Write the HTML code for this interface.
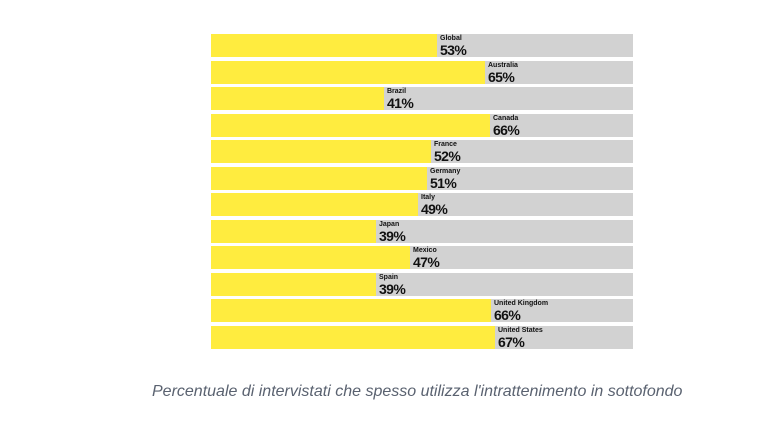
<!DOCTYPE html><html><head><style>
body{margin:0;width:757px;height:446px;background:#fff;position:relative;font-family:"Liberation Sans",sans-serif;overflow:hidden}
.r{position:absolute;left:211px;width:422px;height:23px;background:#d2d2d2}
.y{position:absolute;left:0;top:0;height:23px;background:#ffec3f}
.l{position:absolute;top:1px;font-weight:bold;color:#111;line-height:1}
.l b{display:block;font-size:7px;margin-bottom:1px}
.l i{font-style:normal;display:block;font-size:14px;letter-spacing:-0.6px}
.cap{position:absolute;left:152px;top:383px;font-size:16px;font-style:italic;color:#5a6270;white-space:nowrap}
</style></head><body>
<div class="r" style="top:34px"><div class="y" style="width:226px"></div><div class="l" style="left:229px"><b>Global</b><i>53%</i></div></div>
<div class="r" style="top:60.5px"><div class="y" style="width:274px"></div><div class="l" style="left:277px"><b>Australia</b><i>65%</i></div></div>
<div class="r" style="top:87px"><div class="y" style="width:173px"></div><div class="l" style="left:176px"><b>Brazil</b><i>41%</i></div></div>
<div class="r" style="top:113.5px"><div class="y" style="width:279px"></div><div class="l" style="left:282px"><b>Canada</b><i>66%</i></div></div>
<div class="r" style="top:140px"><div class="y" style="width:220px"></div><div class="l" style="left:223px"><b>France</b><i>52%</i></div></div>
<div class="r" style="top:166.5px"><div class="y" style="width:216px"></div><div class="l" style="left:219px"><b>Germany</b><i>51%</i></div></div>
<div class="r" style="top:193px"><div class="y" style="width:207px"></div><div class="l" style="left:210px"><b>Italy</b><i>49%</i></div></div>
<div class="r" style="top:219.5px"><div class="y" style="width:165px"></div><div class="l" style="left:168px"><b>Japan</b><i>39%</i></div></div>
<div class="r" style="top:246px"><div class="y" style="width:199px"></div><div class="l" style="left:202px"><b>Mexico</b><i>47%</i></div></div>
<div class="r" style="top:272.5px"><div class="y" style="width:165px"></div><div class="l" style="left:168px"><b>Spain</b><i>39%</i></div></div>
<div class="r" style="top:299px"><div class="y" style="width:280px"></div><div class="l" style="left:283px"><b>United Kingdom</b><i>66%</i></div></div>
<div class="r" style="top:325.5px"><div class="y" style="width:284px"></div><div class="l" style="left:287px"><b>United States</b><i>67%</i></div></div>
<div class="cap">Percentuale di intervistati che spesso utilizza l'intrattenimento in sottofondo</div>
</body></html>
